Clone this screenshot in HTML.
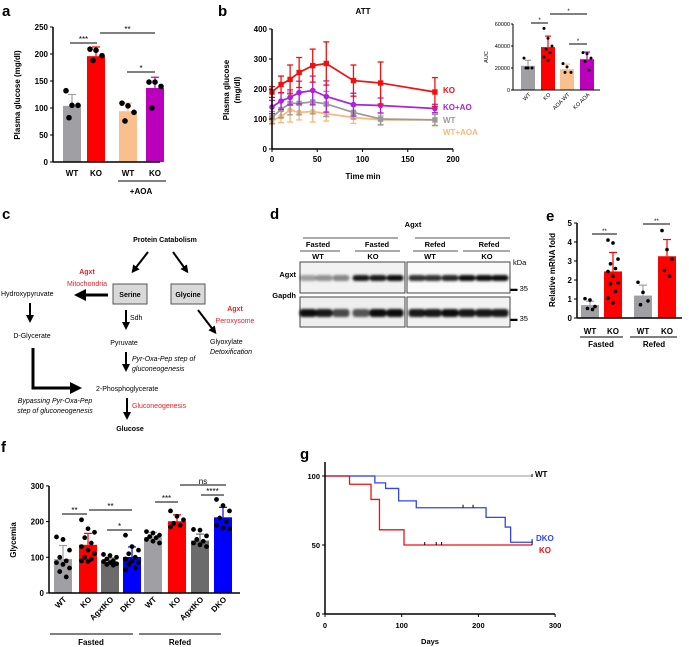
<!DOCTYPE html>
<html><head><meta charset="utf-8"><style>
body{margin:0;background:#fff}
svg{font-family:"Liberation Sans",Arial,sans-serif;display:block}
.b{font-weight:bold}
</style></head><body>
<svg id="s" width="689" height="647" viewBox="0 0 689 647" xmlns="http://www.w3.org/2000/svg">
<defs><marker id="ah" markerWidth="4" markerHeight="4" refX="2" refY="2" orient="auto" markerUnits="strokeWidth"><path d="M0,0 L4,2 L0,4 z" fill="#000"/></marker>
<filter id="bl" x="-20%" y="-50%" width="140%" height="200%"><feGaussianBlur stdDeviation="1.2"/></filter></defs>
<text x="2" y="16" font-size="15" class="b">a</text>
<text x="218" y="16" font-size="15" class="b">b</text>
<text x="2" y="219" font-size="15" class="b">c</text>
<text x="270" y="219" font-size="15" class="b">d</text>
<text x="546" y="221" font-size="15" class="b">e</text>
<text x="1" y="452" font-size="15" class="b">f</text>
<text x="300" y="459" font-size="15" class="b">g</text>

<g font-size="7">
<text x="165" y="242" text-anchor="middle" class="b">Protein Catabolism</text>
<line x1="148" y1="252" x2="134" y2="270" stroke="#000" stroke-width="2" marker-end="url(#ah)"/>
<line x1="173" y1="252" x2="186" y2="270" stroke="#000" stroke-width="2" marker-end="url(#ah)"/>
<text x="87" y="274" text-anchor="middle" fill="#e8202a" class="b">Agxt</text>
<text x="87" y="286" text-anchor="middle" fill="#e8202a">Mitochondria</text>
<text x="1" y="296">Hydroxypyruvate</text>
<rect x="113" y="284" width="34" height="20" fill="#d9d9d9" stroke="#555"/>
<text x="130" y="297" text-anchor="middle" class="b">Serine</text>
<rect x="171" y="284" width="34" height="20" fill="#d9d9d9" stroke="#555"/>
<text x="188" y="297" text-anchor="middle" class="b">Glycine</text>
<line x1="108" y1="295" x2="80" y2="295" stroke="#000" stroke-width="3" marker-end="url(#ah)"/>
<line x1="30" y1="303" x2="30" y2="319" stroke="#000" stroke-width="2" marker-end="url(#ah)"/>
<text x="32" y="338" text-anchor="middle">D-Glycerate</text>
<line x1="126" y1="310" x2="126" y2="326" stroke="#000" stroke-width="2" marker-end="url(#ah)"/>
<text x="130" y="320">Sdh</text>
<text x="124" y="345" text-anchor="middle">Pyruvate</text>
<line x1="198" y1="310" x2="214" y2="331" stroke="#000" stroke-width="2" marker-end="url(#ah)"/>
<text x="235" y="311" text-anchor="middle" fill="#e8202a" class="b">Agxt</text>
<text x="235" y="323" text-anchor="middle" fill="#e8202a">Peroxysome</text>
<text x="210" y="344">Glyoxylate</text>
<text x="210" y="354" font-style="italic">Detoxification</text>
<line x1="126" y1="352" x2="126" y2="368" stroke="#000" stroke-width="2" marker-end="url(#ah)"/>
<text x="132" y="361" font-style="italic">Pyr-Oxa-Pep step of</text>
<text x="132" y="371" font-style="italic">gluconeogenesis</text>
<polyline points="33,348 33,388 76,388" fill="none" stroke="#000" stroke-width="3" marker-end="url(#ah)"/>
<text x="96" y="391">2-Phosphoglycerate</text>
<text x="55" y="403" text-anchor="middle" font-style="italic">Bypassing Pyr-Oxa-Pep</text>
<text x="55" y="413" text-anchor="middle" font-style="italic">step of gluconeogenesis</text>
<line x1="127" y1="398" x2="127" y2="416" stroke="#000" stroke-width="2" marker-end="url(#ah)"/>
<text x="132" y="408" fill="#e8202a">Gluconeogenesis</text>
<text x="130" y="431" text-anchor="middle" class="b">Glucose</text>
</g>

<g font-size="7.5" class="b">
<text x="413" y="227" text-anchor="middle" class="b">Agxt</text>
<line x1="303" y1="238" x2="398" y2="238" stroke="#555"/>
<line x1="415" y1="238" x2="510" y2="238" stroke="#555"/>
<text x="318" y="247" text-anchor="middle" class="b">Fasted</text>
<text x="377" y="247" text-anchor="middle" class="b">Fasted</text>
<text x="435" y="247" text-anchor="middle" class="b">Refed</text>
<text x="489" y="247" text-anchor="middle" class="b">Refed</text>
<line x1="300" y1="251" x2="340" y2="251" stroke="#555"/>
<line x1="355" y1="251" x2="400" y2="251" stroke="#555"/>
<line x1="413" y1="251" x2="458" y2="251" stroke="#555"/>
<line x1="463" y1="251" x2="510" y2="251" stroke="#555"/>
<text x="318" y="259" text-anchor="middle" class="b">WT</text>
<text x="373" y="259" text-anchor="middle" class="b">KO</text>
<text x="430" y="259" text-anchor="middle" class="b">WT</text>
<text x="487" y="259" text-anchor="middle" class="b">KO</text>
<text x="296" y="277" text-anchor="end" class="b">Agxt</text>
<text x="296" y="298" text-anchor="end" class="b">Gapdh</text>
<text x="513" y="265" font-weight="normal">kDa</text>
<text x="510" y="291" font-weight="normal">▬ 35</text>
<text x="510" y="321" font-weight="normal">▬ 35</text>
<g id="blot"></g>
</g>

<g id="charts"></g>
</svg>
<script>
const NS='http://www.w3.org/2000/svg';
function mk(tag,attrs,parent,txt){const e=document.createElementNS(NS,tag);for(const k in attrs)e.setAttribute(k,attrs[k]);if(txt!==undefined)e.textContent=txt;(parent||document.getElementById('charts')).appendChild(e);return e;}
const root=document.getElementById('charts');

const aCats=['WT','KO','WT','KO'];
const aVals=[104,196,94,137];
const aErr=[21,17,15,20];
const aDots=[[132,105,105,82],[209,207,197,188],[109,104,92,76],[148,148,140,100]];
const aColors=['#a0a0a4','#ff0000','#f9c08e','#bb00bb'];
const aTicks=[0,50,100,150,200,250];
const bTimes=[0,10,20,30,45,60,90,120,180];
const bKO=[190,215,232,255,278,285,228,220,190];
const bKOerr=[18,28,48,50,55,72,52,70,48];
const bKOAO=[140,160,172,188,195,175,148,145,135];
const bKOAOerr=[22,28,25,38,48,52,38,25,14];
const bWT=[105,132,152,152,157,150,122,100,97];
const bWTerr=[20,28,38,38,40,42,22,20,18];
const bWTAOA=[95,108,130,122,125,118,105,97,97];
const bWTAOAerr=[12,20,40,25,35,25,20,15,20];
const bXTicks=[0,50,100,150,200];
const bYTicks=[0,100,200,300,400];
const aucCats=['WT','KO','AOA WT','KO AOA'];
const aucVals=[22000,39000,19000,28000];
const aucErr=[5000,10000,4500,6500];
const aucDots=[[29000,20000,20000,20000],[56000,47000,40000,37000,34000,30000,27000],[24000,21000,16000,16000],[34000,33000,29000,26000,18000]];
const aucTicks=[0,20000,40000,60000];
const eVals=[0.68,2.45,1.18,3.25];
const eErr=[0.2,1.0,0.55,0.88];
const eDots=[[1.02,0.95,0.6,0.5,0.45],[4.1,3.95,3.1,2.85,2.6,2.45,2.2,1.85,1.8,1.4,1.05,0.8],[1.88,1.35,0.9,0.7],[4.6,3.6,3.1,2.5,2.2]];
const eColors=['#a0a0a4','#ff0000','#a0a0a4','#ff0000'];
const eTicks=[0,1,2,3,4,5];
const fCats=['WT','KO','AgxtKO','DKO','WT','KO','AgxtKO','DKO'];
const fVals=[95,135,86,101,156,201,147,212];
const fErr=[38,32,12,28,14,18,18,28];
const fDots=[[157,150,120,100,90,85,80,70,60,45],[205,180,170,155,140,130,120,110,100,95,90,88],[108,105,100,95,90,88,85,82,80,78],[162,130,120,110,100,95,90,85,80,70,65],[172,168,162,158,155,150,145,140],[230,215,205,195,190,185],[178,176,160,150,145,140,135,130],[262,245,230,210,200,190,182,180]];
const fColors=['#a0a0a4','#ff0000','#6b6b6b','#0000ff','#a0a0a4','#ff0000','#6b6b6b','#0000ff'];
const fTicks=[0,100,200,300];
const gWTt=[0,270]; const gWTs=[100,100];
const gKOt=[0,32,60,71,103,270]; const gKOs=[100,94,83,61,50,50];
const gKOcens=[130,145,152,270];
const gDKOt=[0,65,79,96,119,210,235,242,270]; const gDKOs=[100,95,91,82,77,70,63,52,52];
const gDKOcens=[180,193,270];
const gXTicks=[0,100,200,300];
const gYTicks=[0,50,100];

function dots(cx,vals,yf,g,r,spread){const n=vals.length;vals.forEach((v,i)=>{const off=n>1?(((i*7)%5)/4-0.5)*spread:0;const d=mk('circle',{cx:cx+off,cy:yf(v),r:r,fill:'#000'},g);

});}
function errbar(cx,top,y0,w,col,g){mk('line',{x1:cx,y1:y0,x2:cx,y2:top,stroke:col,'stroke-width':1.2},g);mk('line',{x1:cx-w,y1:top,x2:cx+w,y2:top,stroke:col,'stroke-width':1.2},g);}
function sig(x1,x2,y,t,g,fs){mk('line',{x1:x1,y1:y,x2:x2,y2:y,stroke:'#000','stroke-width':1},g);mk('text',{x:(x1+x2)/2,y:y-1,'text-anchor':'middle','font-size':fs||8},g,t);}

(function(){const g=mk('g',{},root);


const y=v=>162-v*0.54; const xs=[72,96,128,155];
aVals.forEach((v,i)=>{errbar(xs[i],y(v+aErr[i]),y(v),4,aColors[i]==='#f9c08e'?'#f9c08e':aColors[i],g);
const r=mk('rect',{x:xs[i]-9,y:y(v),width:18,height:y(0)-y(v),fill:aColors[i]},g);


dots(xs[i],aDots[i],y,g,2.8,12);});
mk('line',{x1:53,y1:y(0),x2:160,y2:y(0),stroke:'#000','stroke-width':1.5},g);
mk('line',{x1:53,y1:y(250),x2:53,y2:y(0),stroke:'#000','stroke-width':1.5},g);
aTicks.forEach(t=>{mk('line',{x1:50,y1:y(t),x2:53,y2:y(t),stroke:'#000'},g);mk('text',{x:48,y:y(t)+3,'text-anchor':'end','font-size':8,class:'b'},g,t);});
aCats.forEach((c,i)=>mk('text',{x:xs[i],y:176,'text-anchor':'middle','font-size':8,class:'b'},g,c));
mk('line',{x1:118,y1:181,x2:166,y2:181,stroke:'#000'},g);
mk('text',{x:141,y:194,'text-anchor':'middle','font-size':8,class:'b'},g,'+AOA');
mk('text',{x:0,y:0,transform:'translate(20,95) rotate(-90)','text-anchor':'middle','font-size':8,class:'b'},g,'Plasma glucose (mg/dl)');
sig(70,97,43,'***',g);sig(100,155,33,'**',g);sig(127,155,72,'*',g);
})();

(function(){const g=mk('g',{},root);


const x=t=>272+t*0.905, y=v=>149-v*0.3;
mk('text',{x:363,y:14,'text-anchor':'middle','font-size':8,class:'b'},g,'ATT');
const series=[[bWTAOA,bWTAOAerr,'#f9b878','circle'],[bWT,bWTerr,'#9a9a9a','sq'],[bKOAO,bKOAOerr,'#aa22dd','circle'],[bKO,bKOerr,'#f01010','sq']];
series.forEach(([vals,err,col,sh])=>{
 vals.forEach((v,i)=>{const cx=x(bTimes[i]);mk('line',{x1:cx,y1:y(v+err[i]),x2:cx,y2:y(v-err[i]),stroke:col,'stroke-width':1.3},g);
 mk('line',{x1:cx-3,y1:y(v+err[i]),x2:cx+3,y2:y(v+err[i]),stroke:col,'stroke-width':1.3},g);mk('line',{x1:cx-3,y1:y(v-err[i]),x2:cx+3,y2:y(v-err[i]),stroke:col,'stroke-width':1.3},g);});
 const p=mk('polyline',{points:vals.map((v,i)=>x(bTimes[i])+','+y(v)).join(' '),fill:'none',stroke:col,'stroke-width':1.7},g);
 
 
 vals.forEach((v,i)=>{if(sh==='sq')mk('rect',{x:x(bTimes[i])-2.7,y:y(v)-2.7,width:5.4,height:5.4,fill:col},g);else mk('circle',{cx:x(bTimes[i]),cy:y(v),r:2.8,fill:col},g);});
});
mk('line',{x1:272,y1:y(0),x2:453,y2:y(0),stroke:'#000','stroke-width':1.5},g);
mk('line',{x1:272,y1:y(400),x2:272,y2:y(0),stroke:'#000','stroke-width':1.5},g);
bXTicks.forEach(t=>{mk('line',{x1:x(t),y1:y(0),x2:x(t),y2:y(0)+3,stroke:'#000'},g);mk('text',{x:x(t),y:162,'text-anchor':'middle','font-size':8,class:'b'},g,t);});
bYTicks.forEach(t=>{mk('line',{x1:269,y1:y(t),x2:272,y2:y(t),stroke:'#000'},g);mk('text',{x:267,y:y(t)+3,'text-anchor':'end','font-size':8,class:'b'},g,t);});
mk('text',{x:363,y:179,'text-anchor':'middle','font-size':8,class:'b'},g,'Time min');
mk('text',{x:0,y:0,transform:'translate(229,90) rotate(-90)','text-anchor':'middle','font-size':8,class:'b'},g,'Plasma glucose');
mk('text',{x:0,y:0,transform:'translate(240,90) rotate(-90)','text-anchor':'middle','font-size':8,class:'b'},g,'(mg/dl)');
[['KO','#f01010',93],['KO+AO','#aa22dd',110],['WT','#9a9a9a',123],['WT+AOA','#f9b878',135]].forEach(([t,c,yy])=>mk('text',{x:443,y:yy,'font-size':8,class:'b',fill:c},g,t));
const ya=v=>90-v*0.0011; const xa=[528,548,567,587]; const acol=['#a0a0a4','#ff0000','#f9c08e','#bb00bb'];
aucVals.forEach((v,i)=>{errbar(xa[i],ya(v+aucErr[i]),ya(v),3,acol[i],g);
const r=mk('rect',{x:xa[i]-7,y:ya(v),width:14,height:ya(0)-ya(v),fill:acol[i]},g);


dots(xa[i],aucDots[i],ya,g,1.5,8);
mk('text',{x:0,y:0,transform:`translate(${xa[i]+3},95) rotate(-45)`,'text-anchor':'end','font-size':5.5},g,aucCats[i]);});
mk('line',{x1:513,y1:ya(0),x2:600,y2:ya(0),stroke:'#000'},g);
mk('line',{x1:513,y1:ya(60000),x2:513,y2:ya(0),stroke:'#000'},g);
aucTicks.forEach(t=>{mk('line',{x1:511,y1:ya(t),x2:513,y2:ya(t),stroke:'#000'},g);mk('text',{x:510,y:ya(t)+2,'text-anchor':'end','font-size':5.5},g,t);});
mk('text',{x:0,y:0,transform:'translate(488,57) rotate(-90)','text-anchor':'middle','font-size':5.5},g,'AUC');
sig(531,548,23,'*',g,6);sig(550,587,14,'*',g,6);sig(569,587,44,'*',g,6);
})();

(function(){const g=document.getElementById('blot');
mk('rect',{x:300,y:262,width:105,height:31,fill:'#f2f2f2',stroke:'#444'},g);
mk('rect',{x:407,y:262,width:103,height:31,fill:'#fafafa',stroke:'#444'},g);
mk('rect',{x:300,y:297,width:105,height:30,fill:'#eeeeee',stroke:'#444'},g);
mk('rect',{x:407,y:297,width:103,height:30,fill:'#f2f2f2',stroke:'#444'},g);
const ag=mk('g',{filter:'url(#bl)'},g);
const agx=[[308,0.35],[324,0.4],[341,0.45],[361,0.9],[378,0.9],[395,0.95],[417,0.8],[433,0.8],[450,0.85],[467,0.95],[484,0.95],[500,0.95]];
agx.forEach(([cx,o])=>mk('rect',{x:cx-8.5,y:275,width:17,height:6,rx:3,fill:'#000',opacity:o},ag));
const gap=[[308,0.95],[324,0.9],[341,0.7],[361,0.65],[378,0.95],[395,0.95],[417,0.9],[433,0.9],[450,0.95],[467,0.9],[484,0.9],[500,0.9]];
gap.forEach(([cx,o])=>mk('rect',{x:cx-8.5,y:309,width:17,height:8,rx:3,fill:'#000',opacity:o},ag));
})();

(function(){const g=mk('g',{},root);


const y=v=>318-v*19; const xs=[590,613,643,667];
eVals.forEach((v,i)=>{errbar(xs[i],y(v+eErr[i]),y(v),4,eColors[i]==='#ff0000'?'#ff0000':'#a0a0a4',g);
const r=mk('rect',{x:xs[i]-9,y:y(v),width:18,height:y(0)-y(v),fill:eColors[i]},g);


dots(xs[i],eDots[i],y,g,1.8,10);});
mk('line',{x1:577,y1:y(0),x2:682,y2:y(0),stroke:'#000','stroke-width':1.5},g);
mk('line',{x1:577,y1:y(5),x2:577,y2:y(0),stroke:'#000','stroke-width':1.5},g);
eTicks.forEach(t=>{mk('line',{x1:574,y1:y(t),x2:577,y2:y(t),stroke:'#000'},g);mk('text',{x:572,y:y(t)+3,'text-anchor':'end','font-size':8,class:'b'},g,t);});
['WT','KO','WT','KO'].forEach((c,i)=>mk('text',{x:xs[i],y:334,'text-anchor':'middle','font-size':8,class:'b'},g,c));
mk('line',{x1:580,y1:337,x2:623,y2:337,stroke:'#000'},g);mk('line',{x1:630,y1:337,x2:677,y2:337,stroke:'#000'},g);
mk('text',{x:601,y:347,'text-anchor':'middle','font-size':8,class:'b'},g,'Fasted');
mk('text',{x:654,y:347,'text-anchor':'middle','font-size':8,class:'b'},g,'Refed');
mk('text',{x:0,y:0,transform:'translate(555,270) rotate(-90)','text-anchor':'middle','font-size':8,class:'b'},g,'Relative mRNA fold');
sig(592,617,234,'**',g,6);sig(643,670,224,'**',g,6);
})();

(function(){const g=mk('g',{},root);


const y=v=>593-v*0.357; const xs=[63,88,110,132,153,177,200,223];
fVals.forEach((v,i)=>{errbar(xs[i],y(v+fErr[i]),y(v),4,fColors[i],g);
const r=mk('rect',{x:xs[i]-9,y:y(v),width:18,height:y(0)-y(v),fill:fColors[i]},g);


dots(xs[i],fDots[i],y,g,2.4,13);
mk('text',{x:0,y:0,transform:`translate(${xs[i]+4},600) rotate(-45)`,'text-anchor':'end','font-size':8,class:'b'},g,fCats[i]);});
mk('line',{x1:49,y1:y(0),x2:240,y2:y(0),stroke:'#000','stroke-width':1.5},g);
mk('line',{x1:49,y1:y(300),x2:49,y2:y(0),stroke:'#000','stroke-width':1.5},g);
fTicks.forEach(t=>{mk('line',{x1:46,y1:y(t),x2:49,y2:y(t),stroke:'#000'},g);mk('text',{x:44,y:y(t)+3,'text-anchor':'end','font-size':8,class:'b'},g,t);});
mk('line',{x1:50,y1:634,x2:133,y2:634,stroke:'#000'},g);mk('line',{x1:139,y1:634,x2:221,y2:634,stroke:'#000'},g);
mk('text',{x:91,y:645,'text-anchor':'middle','font-size':8,class:'b'},g,'Fasted');
mk('text',{x:180,y:645,'text-anchor':'middle','font-size':8,class:'b'},g,'Refed');
mk('text',{x:0,y:0,transform:'translate(16,540) rotate(-90)','text-anchor':'middle','font-size':8,class:'b'},g,'Glycemia');
sig(62,87,514,'**',g);sig(89,132,510,'**',g);sig(107,132,530,'*',g);sig(155,178,502,'***',g);sig(180,226,485,'ns',g);sig(201,224,495,'****',g);
})();

(function(){const g=mk('g',{},root);


const x=d=>325+d*0.767, y=v=>614-v*1.38;
function step(ts,ss,col){let pts=[];for(let i=0;i<ts.length;i++){if(i>0)pts.push(x(ts[i])+','+y(ss[i-1]));pts.push(x(ts[i])+','+y(ss[i]));}
const p=mk('polyline',{points:pts.join(' '),fill:'none',stroke:col,'stroke-width':1.3},g);

}
function surv(ts,ss,d){let s=ss[0];for(let i=0;i<ts.length;i++)if(ts[i]<=d)s=ss[i];return s;}
step(gWTt,gWTs,'#aaaaaa');step(gDKOt,gDKOs,'#3344ee');step(gKOt,gKOs,'#ee1111');
gKOcens.forEach(d=>mk('line',{x1:x(d),y1:y(surv(gKOt,gKOs,d)),x2:x(d),y2:y(surv(gKOt,gKOs,d))-3,stroke:'#000'},g));
gDKOcens.forEach(d=>mk('line',{x1:x(d),y1:y(surv(gDKOt,gDKOs,d)),x2:x(d),y2:y(surv(gDKOt,gDKOs,d))-3,stroke:'#000'},g));
mk('line',{x1:x(270),y1:y(100)-2,x2:x(270),y2:y(100)+1,stroke:'#000'},g);
mk('line',{x1:325,y1:614,x2:555,y2:614,stroke:'#000','stroke-width':1.5},g);
mk('line',{x1:325,y1:462,x2:325,y2:614,stroke:'#000','stroke-width':1.5},g);
gXTicks.forEach(t=>{mk('line',{x1:x(t),y1:614,x2:x(t),y2:617,stroke:'#000'},g);mk('text',{x:x(t),y:628,'text-anchor':'middle','font-size':7.5,class:'b'},g,t);});
gYTicks.forEach(t=>{mk('line',{x1:322,y1:y(t),x2:325,y2:y(t),stroke:'#000'},g);mk('text',{x:320,y:y(t)+3,'text-anchor':'end','font-size':7.5,class:'b'},g,t);});
mk('text',{x:430,y:644,'text-anchor':'middle','font-size':7.5,class:'b'},g,'Days');
mk('text',{x:535,y:477,'font-size':8,class:'b'},g,'WT');
mk('text',{x:536,y:541,'font-size':8,class:'b',fill:'#3344ee'},g,'DKO');
mk('text',{x:539,y:553,'font-size':8,class:'b',fill:'#ee1111'},g,'KO');
})();
</script>
</body></html>
